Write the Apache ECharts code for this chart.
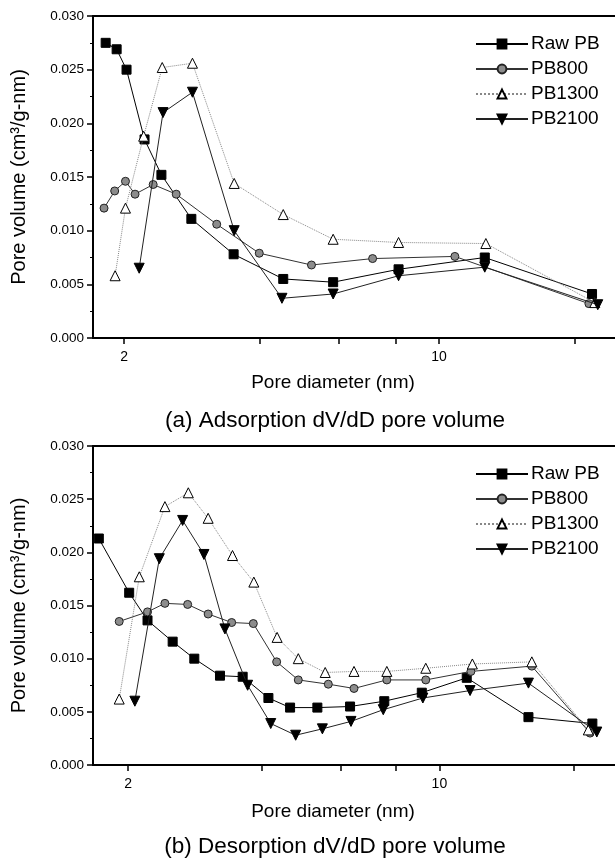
<!DOCTYPE html>
<html><head><meta charset="utf-8">
<script src="https://cdn.jsdelivr.net/npm/echarts@6/dist/echarts.min.js"></script>
<style>html,body{margin:0;padding:0;background:#fff}#c{width:615px;height:860px}</style>
</head><body><div id="c"></div>
<script>
const seriesNames = ['Raw PB', 'PB800', 'PB1300', 'PB2100'];
const captionA = '(a) Adsorption dV/dD pore volume';
const captionB = '(b) Desorption dV/dD pore volume';
const xAxisTitle = 'Pore diameter (nm)';
const yAxisTitle = 'Pore volume (cm³/g-nm)';
const xTickValues = [2, 4, 6, 8, 10, 20];
const xLabelValues = [2, 10];

// (a) Adsorption
const adsRawX = [1.82, 1.925, 2.025, 2.22, 2.42, 2.82, 3.5, 4.51, 5.82, 8.13, 12.63, 21.85];
const adsRawY = [0.0275, 0.0269, 0.0250, 0.0185, 0.0152, 0.0111, 0.0078, 0.0055, 0.0052, 0.0064, 0.0075, 0.0041];
const ads800X = [1.805, 1.906, 2.014, 2.115, 2.32, 2.61, 3.21, 3.99, 5.21, 7.12, 10.84, 21.5];
const ads800Y = [0.0121, 0.0137, 0.0146, 0.0134, 0.0143, 0.0134, 0.0106, 0.0079, 0.0068, 0.0074, 0.0076, 0.0032];
const ads1300X = [1.91, 2.014, 2.21, 2.43, 2.836, 3.51, 4.51, 5.82, 8.13, 12.7, 22.16];
const ads1300Y = [0.0058, 0.0121, 0.0188, 0.0252, 0.0256, 0.0144, 0.0115, 0.0092, 0.0089, 0.0088, 0.0033];
const ads2100X = [2.16, 2.44, 2.836, 3.51, 4.48, 5.82, 8.13, 12.63, 22.5];
const ads2100Y = [0.0065, 0.0210, 0.0229, 0.0100, 0.0037, 0.0041, 0.0058, 0.0066, 0.0031];

// (b) Desorption
const desRawX = [1.718, 2.01, 2.21, 2.517, 2.815, 3.215, 3.615, 4.13, 4.62, 5.32, 6.30, 7.52, 9.13, 11.52, 15.85, 22.06];
const desRawY = [0.0213, 0.0162, 0.0136, 0.0116, 0.0100, 0.0084, 0.0083, 0.0063, 0.0054, 0.0054, 0.0055, 0.0060, 0.0068, 0.0082, 0.0045, 0.0039];
const des800X = [1.909, 2.21, 2.418, 2.72, 3.024, 3.415, 3.82, 4.31, 4.82, 5.63, 6.43, 7.62, 9.32, 11.77, 16.13, 21.8];
const des800Y = [0.0135, 0.0144, 0.0152, 0.0151, 0.0142, 0.0134, 0.0133, 0.0097, 0.0080, 0.0076, 0.0072, 0.0080, 0.0080, 0.0088, 0.0093, 0.0030];
const des1300X = [1.909, 2.118, 2.418, 2.729, 3.024, 3.43, 3.83, 4.32, 4.82, 5.54, 6.43, 7.62, 9.32, 11.86, 16.13, 21.6];
const des1300Y = [0.0062, 0.0177, 0.0243, 0.0256, 0.0232, 0.0197, 0.0172, 0.0120, 0.0100, 0.0087, 0.0088, 0.0088, 0.0091, 0.0095, 0.0097, 0.0033];
const des2100X = [2.07, 2.349, 2.65, 2.959, 3.298, 3.709, 4.18, 4.755, 5.46, 6.33, 7.48, 9.18, 11.72, 15.85, 22.57];
const des2100Y = [0.0060, 0.0194, 0.0230, 0.0198, 0.0128, 0.0075, 0.0039, 0.0028, 0.0034, 0.0041, 0.0052, 0.0063, 0.0070, 0.0077, 0.0031];

const FONT = 'Liberation Sans';
const zip = (xs, ys) => xs.map((x, i) => [x, ys[i]]);

const styles = [
  { symbol: 'rect', size: 9, fill: '#000', border: '#000', line: '#000', type: 'solid' },
  { symbol: 'circle', size: 8, fill: '#8c8c8c', border: '#222', line: '#333', type: 'solid' },
  { symbol: 'triangle', size: 10, fill: '#fff', border: '#000', line: '#888', type: 'dotted' },
  { symbol: 'path://M0,0L10,0L5,9Z', size: 10, fill: '#000', border: '#000', line: '#222', type: 'solid' }
];

function makeSeries(idx, name, xs, ys, panel) {
  const s = styles[idx];
  return {
    type: 'line', name: name, xAxisIndex: panel, yAxisIndex: panel,
    data: zip(xs, ys),
    symbol: s.symbol, symbolSize: s.size, showAllSymbol: true,
    lineStyle: { color: s.line, width: 1, type: s.type },
    itemStyle: { color: s.fill, borderColor: s.border, borderWidth: 1 },
    z: 3 + idx, animation: false
  };
}

const grids = [
  { left: 93, top: 16, width: 522, height: 322 },
  { left: 93, top: 446, width: 522, height: 319 }
];
const xRanges = [[1.706, 24.57], [1.667, 24.8]];
const nameGaps = [35, 37];

const xAxes = [], yAxes = [];
[0, 1].forEach(g => {
  xAxes.push({
    type: 'log', logBase: 10, gridIndex: g, min: xRanges[g][0], max: xRanges[g][1],
    name: xAxisTitle, nameLocation: 'middle', nameGap: nameGaps[g],
    nameTextStyle: { fontFamily: FONT, fontSize: 19, color: '#000', padding: [0, 42, 0, 0] },
    axisLine: { show: true, lineStyle: { color: '#000', width: 2 } },
    axisTick: { show: true, inside: false, length: 6, customValues: xTickValues, lineStyle: { color: '#000', width: 1.5 } },
    minorTick: { show: false },
    axisLabel: { show: true, customValues: xLabelValues, fontFamily: FONT, fontSize: 14, color: '#000', margin: 12, formatter: v => String(v) },
    splitLine: { show: false }
  });
  yAxes.push({
    type: 'value', gridIndex: g, min: 0, max: 0.03, interval: 0.005,
    name: yAxisTitle, nameLocation: 'middle', nameGap: 64, nameRotate: 90,
    nameTextStyle: { fontFamily: FONT, fontSize: 20, color: '#000' },
    axisLine: { show: true, lineStyle: { color: '#000', width: 2 } },
    axisTick: { show: true, inside: false, length: 6, lineStyle: { color: '#000', width: 1.5 } },
    minorTick: { show: true, splitNumber: 2, length: 3, lineStyle: { color: '#000', width: 1 } },
    axisLabel: { fontFamily: FONT, fontSize: 13.5, color: '#000', margin: 9, formatter: v => v.toFixed(3) },
    splitLine: { show: false }
  });
});
// top frame lines
[0, 1].forEach(g => {
  xAxes.push({
    type: 'value', gridIndex: g, position: 'top', min: 0, max: 1,
    axisLine: { show: true, lineStyle: { color: '#000', width: 2 } },
    axisTick: { show: false }, axisLabel: { show: false }, splitLine: { show: false }
  });
});

const series = [
  makeSeries(0, seriesNames[0], adsRawX, adsRawY, 0),
  makeSeries(1, seriesNames[1], ads800X, ads800Y, 0),
  makeSeries(2, seriesNames[2], ads1300X, ads1300Y, 0),
  makeSeries(3, seriesNames[3], ads2100X, ads2100Y, 0),
  makeSeries(0, seriesNames[0], desRawX, desRawY, 1),
  makeSeries(1, seriesNames[1], des800X, des800Y, 1),
  makeSeries(2, seriesNames[2], des1300X, des1300Y, 1),
  makeSeries(3, seriesNames[3], des2100X, des2100Y, 1)
];

const legendBase = {
  orient: 'vertical', left: 475, itemWidth: 52, itemHeight: 11, itemGap: 5,
  data: seriesNames, selectedMode: false,
  textStyle: { fontFamily: FONT, fontSize: 19, color: '#000', lineHeight: 20, padding: [0, 0, 0, -2] },
  padding: 0
};

const chart = echarts.init(document.getElementById('c'), null, { renderer: 'canvas' });
chart.setOption({
  backgroundColor: '#fff',
  animation: false,
  title: [
    { text: captionA, left: 335, top: 409, textAlign: 'center', padding: 0,
      textStyle: { fontFamily: FONT, fontSize: 22.5, fontWeight: 'normal', color: '#000' } },
    { text: captionB, left: 335, top: 835, textAlign: 'center', padding: 0,
      textStyle: { fontFamily: FONT, fontSize: 22.5, fontWeight: 'normal', color: '#000' } }
  ],
  legend: [
    Object.assign({}, legendBase, { top: 34 }),
    Object.assign({}, legendBase, { top: 464 })
  ],
  grid: grids,
  xAxis: xAxes,
  yAxis: yAxes,
  series: series
});
</script>
</body></html>
